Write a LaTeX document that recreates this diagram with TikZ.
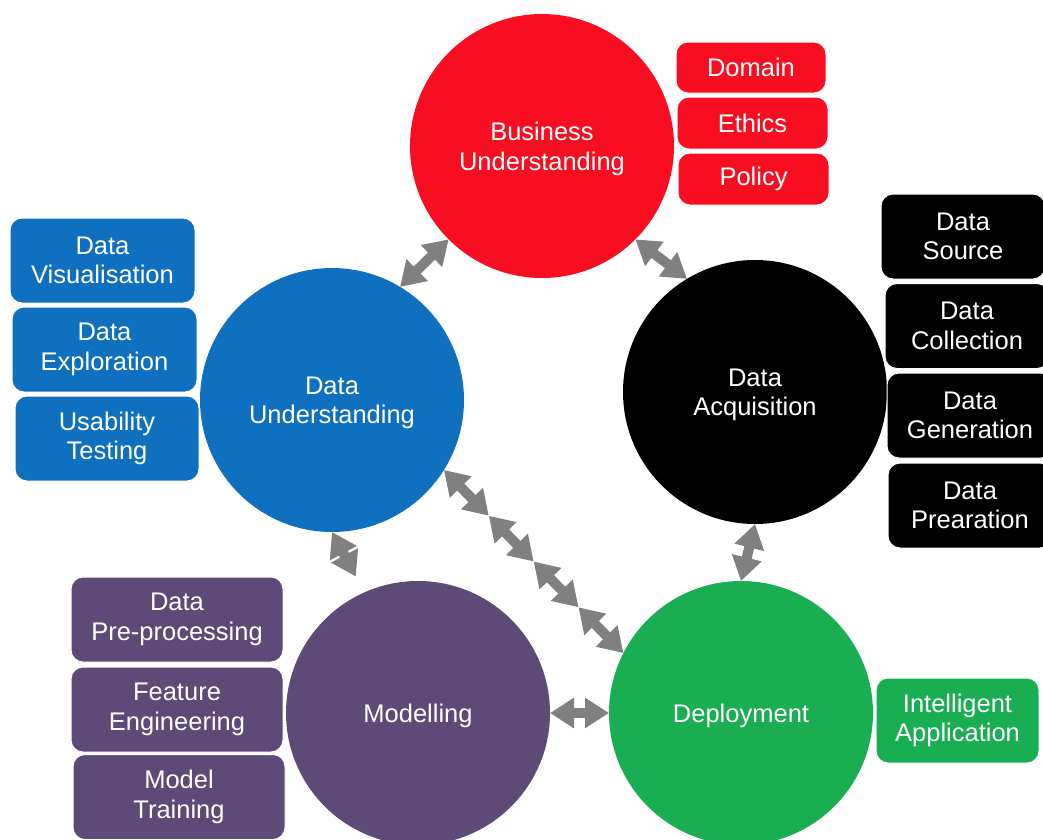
\documentclass[tikz,border=0pt]{standalone}
\usepackage{fontspec}
\setmainfont{Liberation Sans}
\usetikzlibrary{arrows.meta,calc}

\definecolor{bizred}{HTML}{F90E21}
\definecolor{dublue}{HTML}{0E70BE}
\definecolor{modpurple}{HTML}{5E4A77}
\definecolor{depgreen}{HTML}{1AAE52}
\definecolor{arrowgray}{HTML}{808080}

\tikzset{
  phase/.style={circle, minimum size=264pt, inner sep=0pt, outer sep=0pt},
  phasetext/.style={text=white, align=center, inner sep=0pt, yshift=-3pt,
    font=\fontsize{25.5}{29.5}\selectfont},
  task/.style={rectangle, rounded corners=12pt, draw=white, line width=1pt,
    inner sep=0pt, text=white, align=center,
    font=\fontsize{25.5}{29.5}\selectfont},
  dbl/.style={draw=arrowgray, line width=10pt,
    {Triangle[width=29pt,length=24pt]}-{Triangle[width=29pt,length=24pt]},
    arrowgray}
}

\begin{document}
\begin{tikzpicture}[x=1pt,y=-1pt]
\useasboundingbox (0,0) rectangle (1043,839);

% lifecycle phases
\node[phase, fill=bizred,    label={[phasetext]center:Business\\Understanding}] (bu) at (542,146) {};
\node[phase, fill=dublue,    label={[phasetext]center:Data\\Understanding}]     (du) at (332,400) {};
\node[phase, fill=black,     label={[phasetext]center:Data\\Acquisition}]       (da) at (755,392) {};
\node[phase, fill=modpurple, label={[phasetext]center:Modelling}]               (mo) at (418,713) {};
\node[phase, fill=depgreen,  label={[phasetext]center:Deployment}]              (de) at (741,713) {};

% business understanding tasks
\node[task, fill=bizred, minimum width=150pt, minimum height=51pt] (t1) at (751,67.5) {Domain};
\node[task, fill=bizred, minimum width=151pt, minimum height=52pt] (t2) at (752.5,123) {Ethics};
\node[task, fill=bizred, minimum width=151pt, minimum height=52pt] (t3) at (753.5,179) {Policy};

% data acquisition tasks
\node[task, fill=black, minimum width=164pt, minimum height=85pt] (a1) at (963,236.5) {Data\\Source};
\node[task, fill=black, minimum width=164pt, minimum height=85pt] (a2) at (967,326) {Data\\Collection};
\node[task, fill=black, minimum width=166pt, minimum height=85pt] (a3) at (970,415.5) {Data\\Generation};
\node[task, fill=black, minimum width=164pt, minimum height=85pt] (a4) at (970,505.5) {Data\\Prearation};

% data understanding tasks
\node[task, fill=dublue, minimum width=185pt, minimum height=85pt] (u1) at (102.5,260.5) {Data\\Visualisation};
\node[task, fill=dublue, minimum width=185pt, minimum height=85pt] (u2) at (104.5,349.5) {Data\\Exploration};
\node[task, fill=dublue, minimum width=184pt, minimum height=85pt] (u3) at (107,438.5) {Usability\\Testing};

% modelling tasks
\node[task, fill=modpurple, minimum width=212pt, minimum height=85pt] (m1) at (177,619.5) {Data\\Pre-processing};
\node[task, fill=modpurple, minimum width=212pt, minimum height=85pt] (m2) at (177,709.5) {Feature\\Engineering};
\node[task, fill=modpurple, minimum width=212pt, minimum height=85pt] (m3) at (179,797) {Model\\Training};

% deployment task
\node[task, fill=depgreen, minimum width=163pt, minimum height=85pt] (d1) at (957.5,720.5) {Intelligent\\Application};

% two-way links between phases
\draw[dbl] (du.59) -- (bu.225);
\draw[dbl] (bu.315) -- (da.121);
\draw[dbl] (da.-90) -- (de.90);
\draw[dbl] (mo.0) -- (de.180);
\draw[dbl, shorten >=18pt] (du.-90) -- (mo.114);
\foreach \s/\e in {0/0.25, 0.25/0.5, 0.5/0.75, 0.75/1}
  \draw[dbl] ($(du.-32.5)!\s!(de.153.4)$) -- ($(du.-32.5)!\e!(de.153.4)$);
\end{tikzpicture}
\end{document}
